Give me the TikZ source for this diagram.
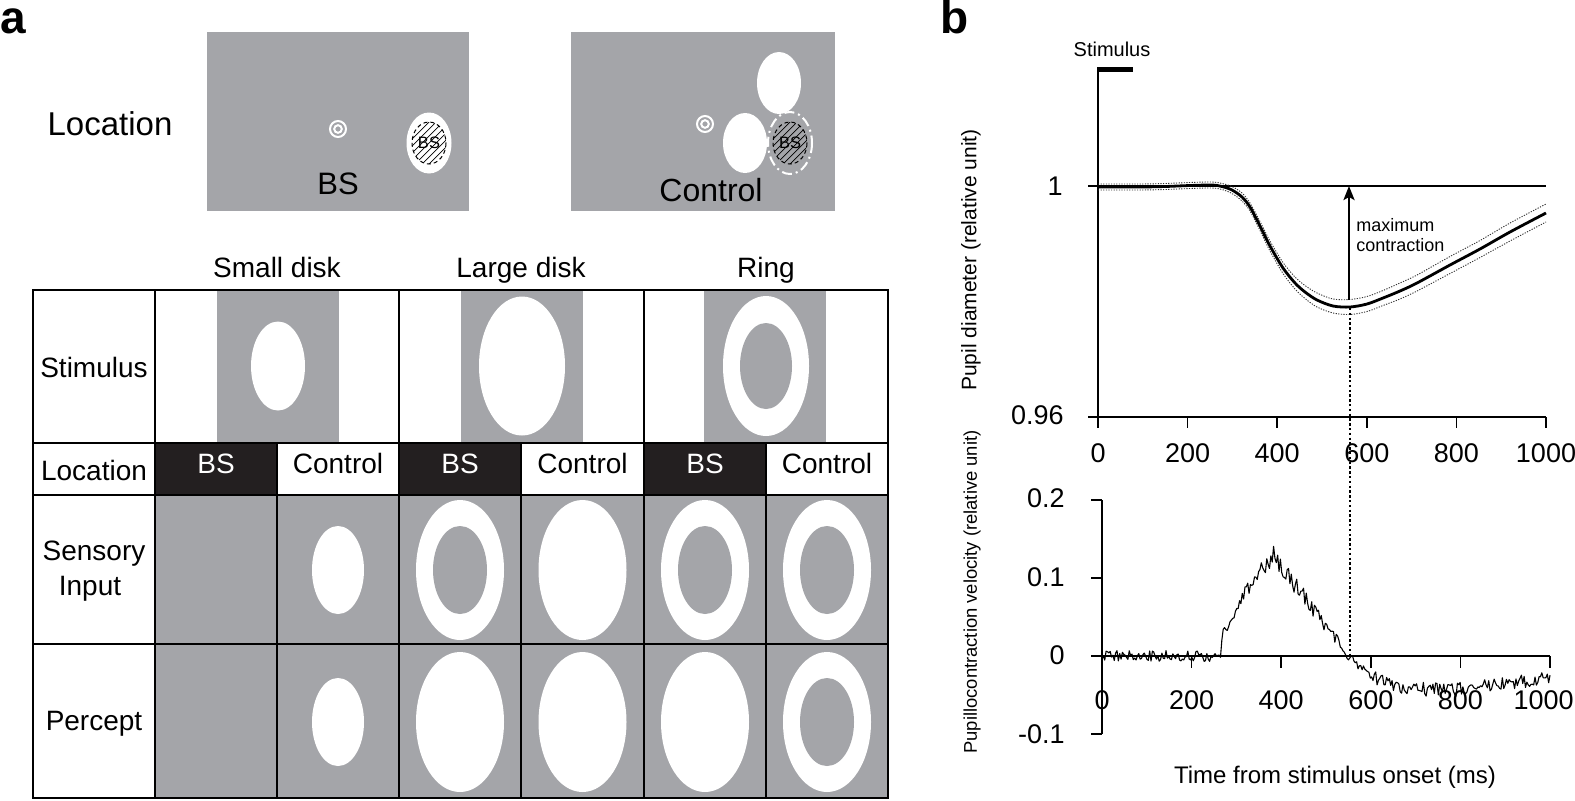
\documentclass[tikz,border=0pt]{standalone}
\usepackage{fontspec}
\setmainfont{Liberation Sans}
\usetikzlibrary{arrows.meta}
\definecolor{pgray}{RGB}{164,165,169}
\definecolor{pblack}{RGB}{35,31,32}
\newcommand{\myfs}[1]{\fontsize{#1}{#1}\selectfont}
\begin{document}
\begin{tikzpicture}[x=0.5pt,y=-0.5pt,
  txt/.style={inner sep=0pt, text=black},
  tab/.style={txt, font={\myfs{14}}},
  tick/.style={txt, font={\myfs{13.5}}},
  panlab/.style={txt, anchor=base west, font={\myfs{23}\bfseries}, text height=0.72em, text depth=0pt},
  grid/.style={line width=1pt, draw=black},
  axis/.style={line width=0.75pt, draw=black},
  fix/.style={draw=white, line width=1pt},
  bsdash/.style={draw=black, line width=0.5pt, dash pattern=on 2pt off 1.5pt},
  hatch/.style={line width=0.35pt, draw=black},
  sedot/.style={draw=black!80, line width=0.45pt, dash pattern=on 0.6pt off 0.7pt},
  declare function={
    vr(\x)=0.02+0.11*min(max((\x-265)/115,0.001),1)^0.8;
    vd(\x)=0.13*(1-min(max((\x-380)/170,0),1));
    vt(\x)=-0.045*(1-exp(-max(\x-550,0)/60))+0.00007*max(\x-780,0);
    vel(\x)=and(\x>=265,\x<380)*vr(\x)+and(\x>=380,\x<550)*vd(\x)+(\x>=550)*vt(\x);
  }]
\useasboundingbox (0,0) rectangle (1575,800);
\fill[white] (0,0) rectangle (1575,800);
\pgfmathsetseed{42}

% panel letters
\node[panlab] (labA) at (0,33) {a};
\node[panlab] (labB) at (940,33) {b};

% ---------- top insets ----------
\node[txt, font={\myfs{16.5}}] (locTop) at (110,124) {Location};

% BS panel
\fill[pgray] (207,32) rectangle (469,211);
\draw[fix] (338,129) circle (8) (338,129) circle (3.8);
\fill[white] (429,143) ellipse (22.5 and 30.5);
\begin{scope}
  \clip (429,143) ellipse (17 and 21);
  \foreach \k in {-42,-35,...,42} \draw[hatch] ({429+\k-25},168) -- ({429+\k+25},118);
\end{scope}
\draw[bsdash] (429,143) ellipse (17 and 21);
\node[txt, font={\myfs{8.25}}] (bsIn1) at (429,143) {BS};
\node[txt, font={\myfs{15.5}}] (bsLab) at (338,184) {BS};

% Control panel
\fill[pgray] (571,32) rectangle (835,211);
\draw[fix] (705,124) circle (8) (705,124) circle (3.8);
\fill[white] (779,83) ellipse (22 and 31);
\fill[white] (745,143) ellipse (22 and 30);
\draw[white, line width=1pt, dash pattern=on 5pt off 2pt on 1pt off 2pt] (790,143) ellipse (22 and 31);
\begin{scope}
  \clip (790,143) ellipse (17 and 21);
  \foreach \k in {-42,-35,...,42} \draw[hatch] ({790+\k-25},168) -- ({790+\k+25},118);
\end{scope}
\draw[bsdash] (790,143) ellipse (17 and 21);
\node[txt, font={\myfs{8.25}}] (bsIn2) at (790,143) {BS};
\node[txt, font={\myfs{16}}] (ctlLab) at (711,190) {Control};

% ---------- table ----------
\node[tab, anchor=base] (hSmall) at (277,277) {Small disk};
\node[tab, anchor=base] (hLarge) at (521,277) {Large disk};
\node[tab, anchor=base] (hRing) at (766,277) {Ring};

% stimulus row
\fill[pgray] (217,290) rectangle (339,443);
\fill[pgray] (461,290) rectangle (583,443);
\fill[pgray] (704,290) rectangle (826,443);
\fill[white] (278,366) ellipse (27 and 44.5);
\fill[white] (522,366) ellipse (43 and 69.5);
\fill[white] (766,366) ellipse (43 and 70);
\fill[pgray] (766,366) ellipse (26 and 43);

% location row
\fill[pblack] (155,443) rectangle (277,495);
\fill[pblack] (399,443) rectangle (521,495);
\fill[pblack] (644,443) rectangle (766,495);
\node[tab, anchor=base, text=white] (loc1) at (216,473) {BS};
\node[tab, anchor=base] (loc2) at (338,473) {Control};
\node[tab, anchor=base, text=white] (loc3) at (460,473) {BS};
\node[tab, anchor=base] (loc4) at (582.5,473) {Control};
\node[tab, anchor=base, text=white] (loc5) at (705,473) {BS};
\node[tab, anchor=base] (loc6) at (827,473) {Control};

% sensory + percept rows
\fill[pgray] (155,495) rectangle (888,798);
% sensory input (y=570)
\fill[white] (338,570) ellipse (26 and 44);
\fill[white] (460,570) ellipse (44 and 70);
\fill[pgray] (460,570) ellipse (27 and 44);
\fill[white] (582.5,570) ellipse (44 and 70);
\fill[white] (705,570) ellipse (44 and 70);
\fill[pgray] (705,570) ellipse (27 and 44);
\fill[white] (827,570) ellipse (44 and 70);
\fill[pgray] (827,570) ellipse (27 and 44);
% percept (y=722)
\fill[white] (338,722) ellipse (26 and 44);
\fill[white] (460,722) ellipse (44 and 70);
\fill[white] (582.5,722) ellipse (44 and 70);
\fill[white] (705,722) ellipse (44 and 70);
\fill[white] (827,722) ellipse (44 and 70);
\fill[pgray] (827,722) ellipse (27 and 44);

% row labels
\node[tab, anchor=base] (rStim) at (94,377) {Stimulus};
\node[tab, anchor=base] (rLoc) at (94,480) {Location};
\node[tab, anchor=base] (rSens1) at (94,560) {Sensory};
\node[tab, anchor=base] (rSens2) at (90,595) {Input};
\node[tab, anchor=base] (rPerc) at (94,730) {Percept};

% grid
\draw[grid] (33,290) rectangle (888,798);
\foreach \yy in {443,495,644} \draw[grid] (33,\yy) -- (888,\yy);
\foreach \xx in {155,399,644} \draw[grid] (\xx,290) -- (\xx,798);
\foreach \xx in {277,521,766} \draw[grid] (\xx,443) -- (\xx,798);

% ---------- panel b : upper plot ----------
\fill[black] (1097,67) rectangle (1133,72);
\node[txt, font={\myfs{10}}] (stimLab) at (1112,49) {Stimulus};
\draw[axis] (1098,67) -- (1098,417);
\draw[axis] (1088,186) -- (1546,186);
\draw[axis] (1088,417) -- (1546,417);
\foreach \i in {0,...,5} \draw[axis] ({1098+89.6*\i},417) -- ({1098+89.6*\i},428);
\foreach \v [count=\i from 0] in {0,200,400,600,800,1000}
  \node[tick] (ux\i) at ({1098+89.6*\i},453) {\v};
\node[tick, anchor=east] (uy1) at (1063,186) {1};
\node[tick, anchor=east] (uy2) at (1064,415) {0.96};
\node[txt, rotate=90, font={\myfs{10.5}}] (uyt) at (971,260) {Pupil diameter (relative unit)};

% SE band
\draw[sedot] plot[smooth, tension=0.5] coordinates {(1098,184) (1140,184) (1165,183.5) (1190,182.5) (1212,182) (1222,183.5) (1232,186.5) (1242,193) (1250,203) (1260,221.5) (1270,241) (1283,262.5) (1295,277) (1305,285.5) (1317,293) (1333,299) (1350,299.5) (1367,296.5) (1383,290.5) (1400,283) (1417,275) (1450,256.5) (1480,240.5) (1510,223) (1546,204)};
\draw[sedot] plot[smooth, tension=0.5] coordinates {(1098,190) (1140,190) (1165,189.5) (1190,188.5) (1212,188) (1222,189.5) (1232,193.5) (1242,201) (1250,211) (1260,230.5) (1270,251) (1283,273.5) (1295,289) (1305,298.5) (1317,307) (1333,313) (1350,314.5) (1367,311.5) (1383,305.5) (1400,299) (1417,291) (1450,273.5) (1480,257.5) (1510,241) (1546,222)};
% mean
\draw[line width=1.4pt, line join=round] plot[smooth, tension=0.5] coordinates {(1098,187) (1140,187) (1165,186.5) (1190,185.5) (1212,185) (1222,186.5) (1232,190) (1242,197) (1250,207) (1260,226) (1270,246) (1283,268) (1295,283) (1305,292) (1317,300) (1333,306) (1350,307) (1367,304) (1383,298) (1400,291) (1417,283) (1450,265) (1480,249) (1510,232) (1546,213)};

% arrow
\coordinate (arrBase) at (1349,300);
\coordinate (arrTip) at (1349,186);
\draw[line width=1.3pt, -{Stealth[length=7pt,width=5.5pt,inset=1.5pt]}] (arrBase) -- (arrTip);
\node[txt, anchor=base west, font={\myfs{9}}] (mc1) at (1356,231) {maximum};
\node[txt, anchor=base west, font={\myfs{9}}] (mc2) at (1356,251) {contraction};

% dotted vertical
\coordinate (vdTop) at (1350,308);
\coordinate (vdBot) at (1350,656);
\draw[line width=1pt, dash pattern=on 1.2pt off 1.2pt] (vdTop) -- (vdBot);

% ---------- panel b : lower plot ----------
\draw[axis] (1102,500) -- (1102,734);
\foreach \yy in {500,578,656,734} \draw[axis] (1091,\yy) -- (1102,\yy);
\draw[axis] (1091,656) -- (1550,656);
\foreach \i in {1,...,5} \draw[axis] ({1102+89.6*\i},656) -- ({1102+89.6*\i},668);
\foreach \v [count=\i from 0] in {0,200,400,600,800}
  \node[tick] (lx\i) at ({1102+89.6*\i},700) {\v};
\node[tick, anchor=east] (lx5) at (1574,700) {1000};
\node[tick, anchor=east] (ly1) at (1065,498) {0.2};
\node[tick, anchor=east] (ly2) at (1065,577) {0.1};
\node[tick, anchor=east] (ly3) at (1065,655) {0};
\node[tick, anchor=east] (ly4) at (1065,734) {-0.1};
\node[txt, rotate=90, font={\myfs{9.2}}] (lyt) at (972,592) {Pupillocontraction velocity (relative unit)};
\node[txt, anchor=base, font={\myfs{12}}] (xt) at (1335,783) {Time from stimulus onset (ms)};

\begin{scope}[shift={(1102,656)}]
  \begin{scope}[x=0.224pt, y=390pt]
    \draw[line width=0.55pt, line join=round] plot[domain=0:1000, samples=330, variable=\x]
      (\x, {vel(\x) + (0.007+0.05*abs(vel(\x)))*rand});
  \end{scope}
\end{scope}
\end{tikzpicture}
\end{document}
